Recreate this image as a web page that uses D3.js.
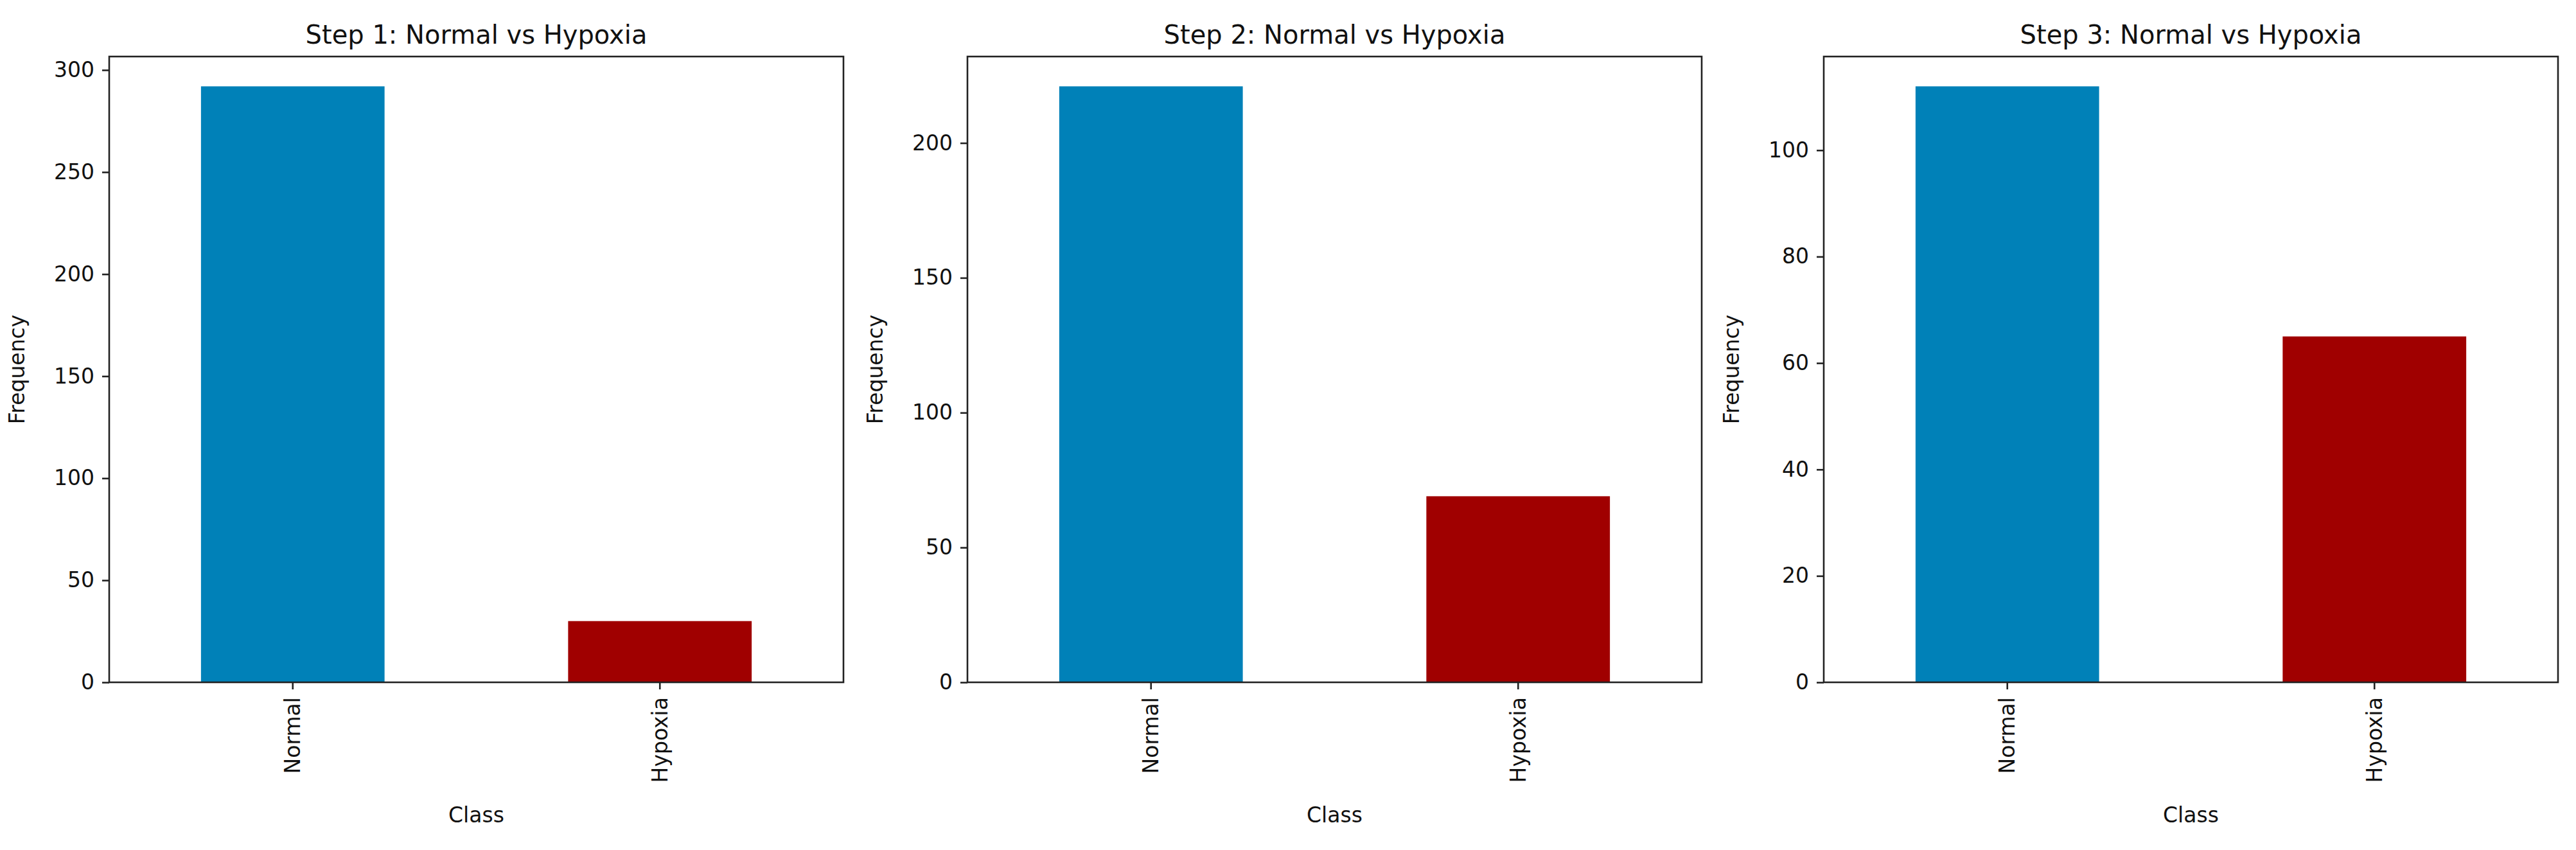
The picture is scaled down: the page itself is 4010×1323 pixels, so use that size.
<!DOCTYPE html>
<html>
<head>
<meta charset="utf-8">
<script src="https://cdn.jsdelivr.net/npm/d3@7"></script>
<style>
  body { margin: 0; background: #fff; }
  svg { display: block; font-family: 'DejaVu Sans', sans-serif; }
</style>
</head>
<body>
<div class="chart"></div>
<script>
const categories = ['Normal', 'Hypoxia'];
const titles = ['Step 1: Normal vs Hypoxia', 'Step 2: Normal vs Hypoxia', 'Step 3: Normal vs Hypoxia'];
const step1 = [292, 30];
const step2 = [221, 69];
const step3 = [112, 65];
const yTicks1 = [0, 50, 100, 150, 200, 250, 300];
const yTicks2 = [0, 50, 100, 150, 200];
const yTicks3 = [0, 20, 40, 60, 80, 100];

const width = 4010;
const height = 1323;

const color = {
  'Normal': '#0081b8',
  'Hypoxia': '#a00000',
  'axis': '#222',
};

const panelLeft = [170, 1506, 2839];
const panelWidth = 1143;
const plotTop = 88;
const plotBottom = 1062;
const tickSize = 11;
const fontSize = 33;

const panels = [
  {title: titles[0], values: step1, ticks: yTicks1},
  {title: titles[1], values: step2, ticks: yTicks2},
  {title: titles[2], values: step3, ticks: yTicks3},
];

const svg = d3.select('.chart')
  .append('svg')
    .attr('width', width)
    .attr('height', height);

panels.forEach((p, i) => {
  const g = svg.append('g')
    .attr('transform', `translate(${panelLeft[i]}, 0)`);

  const x = d3.scaleBand()
    .domain(categories)
    .range([0, panelWidth])
    .paddingInner(0.5)
    .paddingOuter(0.25);

  const y = d3.scaleLinear()
    .domain([0, d3.max(p.values) * 1.05])
    .range([plotBottom, plotTop]);

  g.selectAll('.bar')
    .data(categories)
    .join('rect')
      .attr('class', 'bar')
      .attr('x', d => x(d))
      .attr('width', x.bandwidth())
      .attr('y', (d, j) => y(p.values[j]))
      .attr('height', (d, j) => plotBottom - y(p.values[j]))
      .attr('fill', d => color[d]);

  // frame
  g.append('rect')
    .attr('x', 0)
    .attr('y', plotTop)
    .attr('width', panelWidth)
    .attr('height', plotBottom - plotTop)
    .attr('fill', 'none')
    .attr('stroke', color.axis)
    .attr('stroke-width', 2.6);

  const yAxis = g.append('g')
    .call(d3.axisLeft(y).tickValues(p.ticks).tickSize(tickSize).tickPadding(12));

  const xAxis = g.append('g')
    .attr('transform', `translate(0, ${plotBottom})`)
    .call(d3.axisBottom(x).tickSize(tickSize).tickPadding(12));

  [yAxis, xAxis].forEach(a => {
    a.select('.domain').remove();
    a.selectAll('.tick line').attr('stroke', color.axis).attr('stroke-width', 2.6);
    a.selectAll('.tick text')
      .attr('fill', '#111')
      .style('font-size', fontSize + 'px')
      .style('font-family', "'DejaVu Sans', sans-serif");
  });

  xAxis.selectAll('.tick text')
    .attr('transform', 'rotate(-90)')
    .attr('text-anchor', 'end')
    .attr('x', -(tickSize + 12))
    .attr('y', 0)
    .attr('dy', '0.35em');

  g.append('text')
    .attr('x', panelWidth / 2)
    .attr('y', 68)
    .attr('text-anchor', 'middle')
    .style('font-size', '40px')
    .attr('fill', '#111')
    .text(p.title);

  g.append('text')
    .attr('x', panelWidth / 2)
    .attr('y', 1280)
    .attr('text-anchor', 'middle')
    .style('font-size', fontSize + 'px')
    .attr('fill', '#111')
    .text('Class');

  g.append('text')
    .attr('transform', `translate(-132, ${(plotTop + plotBottom) / 2}) rotate(-90)`)
    .attr('text-anchor', 'middle')
    .style('font-size', fontSize + 'px')
    .attr('fill', '#111')
    .text('Frequency');
});
</script>
</body>
</html>
